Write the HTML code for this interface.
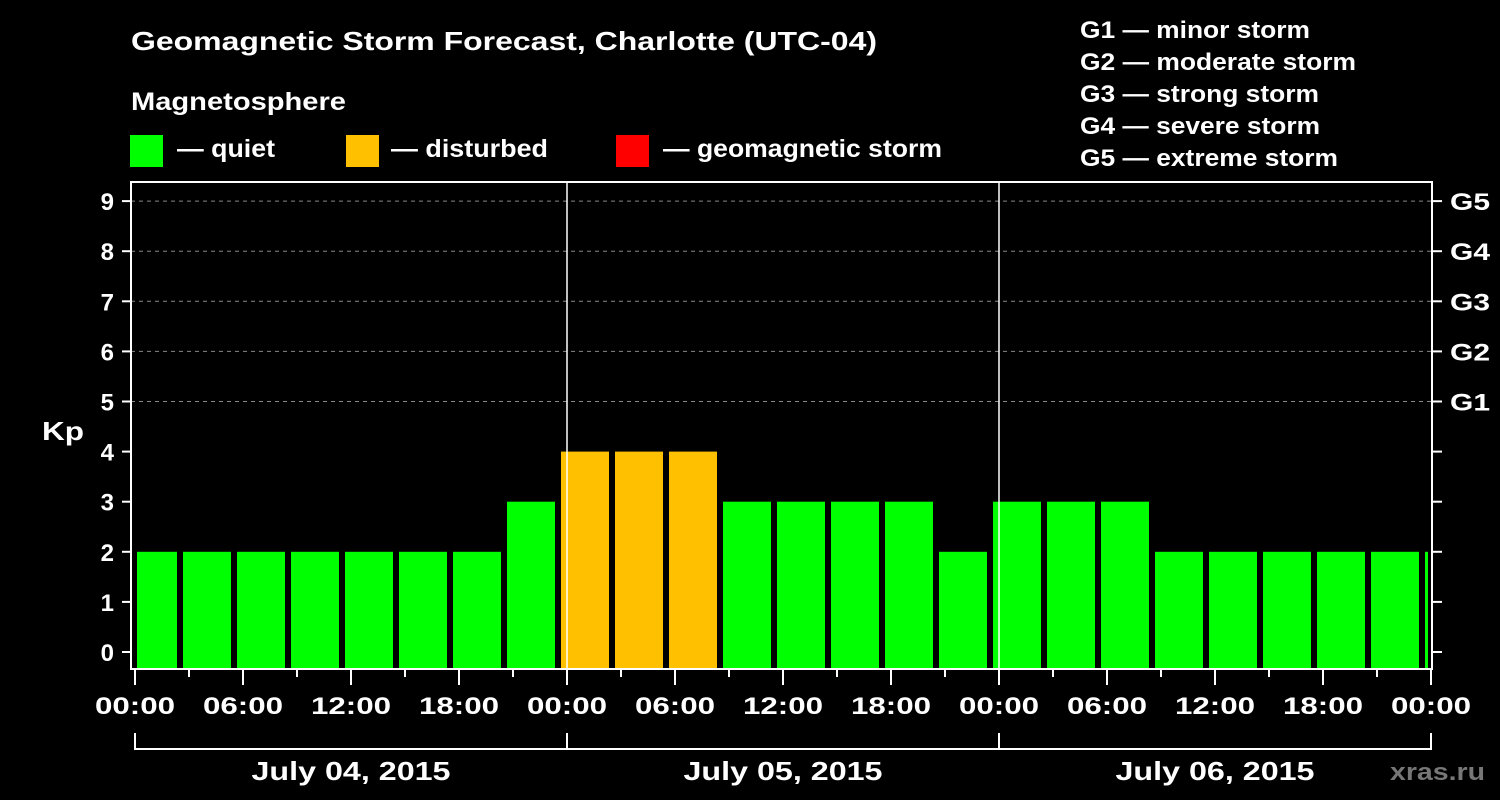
<!DOCTYPE html>
<html><head><meta charset="utf-8"><style>
html,body{margin:0;padding:0;background:#000;}
svg{display:block;font-family:"Liberation Sans",Arial,sans-serif;font-weight:bold;}
</style></head><body>
<svg id="chart" width="1500" height="800" viewBox="0 0 1500 800">
<rect x="0" y="0" width="1500" height="800" fill="#000"/>
<text x="131" y="50" font-size="26" fill="#fff" textLength="746" lengthAdjust="spacingAndGlyphs">Geomagnetic Storm Forecast, Charlotte (UTC-04)</text>
<text x="131" y="110" font-size="25" fill="#fff" textLength="215" lengthAdjust="spacingAndGlyphs">Magnetosphere</text>
<g>
<rect x="130" y="135" width="33" height="32" fill="#00ff00"/>
<text x="177" y="157" font-size="25" fill="#fff" textLength="98" lengthAdjust="spacingAndGlyphs">— quiet</text></g>
<g>
<rect x="346" y="135" width="33" height="32" fill="#ffc000"/>
<text x="391" y="157" font-size="25" fill="#fff" textLength="157" lengthAdjust="spacingAndGlyphs">— disturbed</text></g>
<g>
<rect x="616" y="135" width="33" height="32" fill="#ff0000"/>
<text x="663" y="157" font-size="25" fill="#fff" textLength="279" lengthAdjust="spacingAndGlyphs">— geomagnetic storm</text></g>
<g font-size="24" fill="#fff">
<text x="1080" y="38" textLength="230" lengthAdjust="spacingAndGlyphs">G1 — minor storm</text>
<text x="1080" y="70" textLength="276" lengthAdjust="spacingAndGlyphs">G2 — moderate storm</text>
<text x="1080" y="102" textLength="239" lengthAdjust="spacingAndGlyphs">G3 — strong storm</text>
<text x="1080" y="134" textLength="240" lengthAdjust="spacingAndGlyphs">G4 — severe storm</text>
<text x="1080" y="166" textLength="258" lengthAdjust="spacingAndGlyphs">G5 — extreme storm</text>
</g>
<text x="42" y="440" font-size="26" fill="#fff" textLength="42" lengthAdjust="spacingAndGlyphs">Kp</text>
<text x="1390" y="780" font-size="24" fill="#777" textLength="95" lengthAdjust="spacingAndGlyphs">xras.ru</text>
<g id="grid"></g><g id="bars"></g><g id="axes"></g>
</svg>
<script>
const kpValues = [2,2,2,2,2,2,2,3,4,4,4,3,3,3,3,2,3,3,3,2,2,2,2,2,2];
const yTicks = [0,1,2,3,4,5,6,7,8,9];
const gLabels = ["G1","G2","G3","G4","G5"];
const gLevels = [5,6,7,8,9];
const timeLabels = ["00:00","06:00","12:00","18:00","00:00","06:00","12:00","18:00","00:00","06:00","12:00","18:00","00:00"];
const dayLabels = ["July 04, 2015","July 05, 2015","July 06, 2015"];

const NS = "http://www.w3.org/2000/svg";
const L = 131, R = 1432, T = 182, B = 669;
const X0 = 135, DAY = 432;
function xHour(h){ return X0 + h * DAY / 24; }
function yKp(v){ return 652 - v * 50.1; }
function mk(tag, attrs, parent){ const e = document.createElementNS(NS, tag); for (const k in attrs) e.setAttribute(k, attrs[k]); parent.appendChild(e); return e; }
const grid = document.getElementById('grid'), bars = document.getElementById('bars'), axes = document.getElementById('axes');

// grid lines
for (const v of gLevels){
  const l = mk('line', {x1:L, x2:R, y1:yKp(v), y2:yKp(v), stroke:'#888', 'stroke-dasharray':'4,4', 'stroke-width':1}, grid);
  
  
}
// bars
kpValues.forEach((v, i) => {
  const cx = xHour(1 + 3 * i) ;
  let x1 = cx - 24 + 0, x2 = cx + 24;
  x1 = Math.max(x1, 137); x2 = Math.min(x2, 1428);
  const col = v >= 5 ? '#ff0000' : (v >= 4 ? '#ffc000' : '#00ff00');
  const r = mk('rect', {x:x1, y:yKp(v), width:Math.max(0, x2 - x1), height:B - 1 - yKp(v), fill:col}, bars);
  
  
});
// day separators
for (let d = 1; d < 3; d++){
  const l = mk('line', {x1:xHour(24*d), x2:xHour(24*d), y1:T, y2:B, stroke:'#fff', 'stroke-width':1.5}, axes);
  
  
}
// frame
const fr = mk('rect', {x:L, y:T, width:R - L, height:B - T, fill:'none', stroke:'#fff', 'stroke-width':2}, axes);


// y ticks
for (const v of yTicks){
  const y = yKp(v);
  const t = mk('line', {x1:L - 9, x2:L, y1:y, y2:y, stroke:'#fff', 'stroke-width':2}, axes);
  
  
  const t2 = mk('line', {x1:R, x2:R + 10, y1:y, y2:y, stroke:'#fff', 'stroke-width':2}, axes);
  
  
  const lb = mk('text', {x:114, y:y + 9, 'font-size':24, fill:'#fff', 'text-anchor':'end'}, axes);
  lb.textContent = v;
  
  
}
gLabels.forEach((g, i) => {
  const lb = mk('text', {x:1450, y:yKp(gLevels[i]) + 9, 'font-size':24, fill:'#fff', textLength:40, lengthAdjust:'spacingAndGlyphs'}, axes);
  lb.textContent = g;
  
  
});
// x ticks
for (let h = 0; h <= 72; h += 3){
  const x = xHour(h);
  const long = h % 6 === 0;
  const t = mk('line', {x1:x, x2:x, y1:B, y2:long ? 685 : 677, stroke:'#fff', 'stroke-width':2}, axes);
  
  
}
timeLabels.forEach((s, i) => {
  const lb = mk('text', {x:xHour(6*i), y:714, 'font-size':24, fill:'#fff', 'text-anchor':'middle', textLength:80, lengthAdjust:'spacingAndGlyphs'}, axes);
  lb.textContent = s;
  
  
});
dayLabels.forEach((s, d) => {
  const x1 = xHour(24*d), x2 = xHour(24*(d+1));
  const p = mk('path', {d:`M${x1},733 V749 H${x2} V733`, fill:'none', stroke:'#fff', 'stroke-width':2}, axes);
  
  
  const lb = mk('text', {x:(x1+x2)/2, y:780, 'font-size':26, fill:'#fff', 'text-anchor':'middle', textLength:199, lengthAdjust:'spacingAndGlyphs'}, axes);
  lb.textContent = s;
  
  
});
</script>
</body></html>
